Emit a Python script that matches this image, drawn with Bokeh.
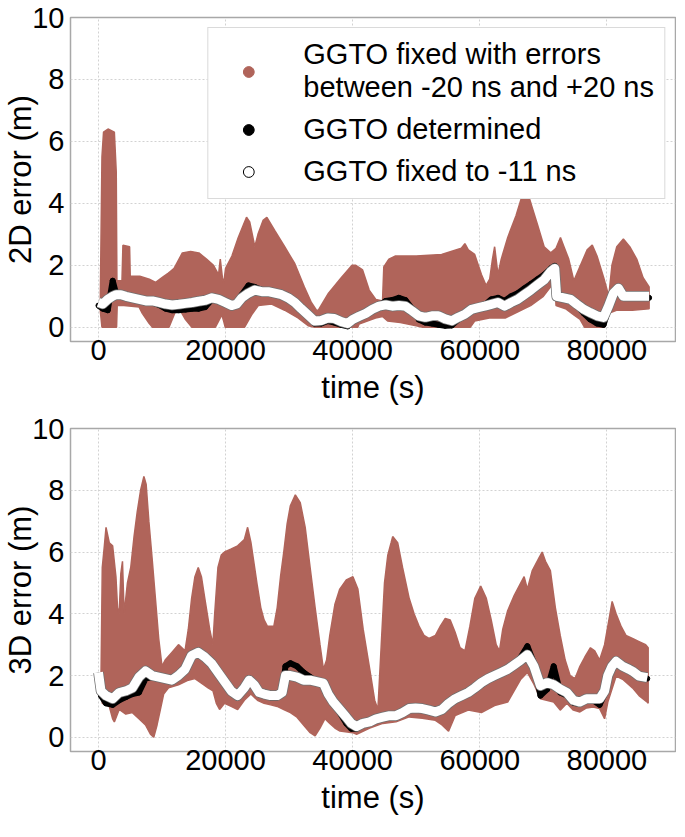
from bokeh.plotting import figure
from bokeh.models import Range1d, SingleIntervalTicker, ColumnDataSource, Legend, LegendItem
from bokeh.layouts import column
from bokeh.embed import file_html
from bokeh.resources import INLINE

BROWN = "#b0645a"
FONT = "Liberation Sans"

# ---------------- 2D error panel ----------------
t2_up = [300, 550, 800, 1500, 2500, 2800, 2900, 3700, 3850, 4900, 5000, 6500, 8000, 9000, 10000,
         11000, 11300, 11900, 13200, 14500, 15800, 17000, 18100, 18900, 19170, 19500, 19700, 20000,
         21000, 22000, 22800, 23300, 23800, 24600, 25100, 25900, 26500, 27800, 29300, 30900, 32400,
         33500, 34300, 34600, 36200, 38200, 39900, 40500, 41560, 42600, 43640, 44700, 44900, 45700,
         46750, 50000, 54000, 57100, 57660, 58200, 59200, 60260, 61000, 61560, 62000, 62340, 62860,
         63380, 64400, 65700, 66750, 67430, 68050, 69100, 70130, 71170, 72000, 72700, 73250, 74000,
         74800, 75850, 76900, 77700, 78450, 79500, 80300, 80800, 81560, 82600, 83600, 84700, 85700,
         86650]
v2_up = [1.1, 5.5, 6.3, 6.4, 6.3, 5.0, 1.5, 1.5, 2.65, 2.6, 1.65, 1.65, 1.55, 1.45, 1.6,
         1.75, 1.8, 1.9, 2.4, 2.45, 2.4, 2.2, 2.0, 1.7, 2.2, 1.6, 1.4, 1.9,
         2.3, 2.9, 3.3, 3.55, 3.4, 2.6, 3.0, 3.45, 3.55, 3.1, 2.6, 2.05, 1.3,
         0.8, 0.55, 0.55, 1.1, 1.6, 2.0, 2.0, 1.85, 1.2, 0.9, 0.85, 1.95, 2.2,
         2.3, 2.3, 2.35, 2.55, 2.7, 2.5, 2.35, 1.7, 1.35, 1.55, 2.2, 2.6, 1.7,
         2.2, 2.9, 3.6, 4.3, 4.4, 4.0, 3.3, 2.6, 2.4, 2.55, 2.9, 2.6, 2.2,
         1.5, 2.0, 2.5, 2.65, 2.3, 1.6, 1.0, 2.0, 2.6, 2.85, 2.6, 2.2, 1.6,
         1.3]
t2_lo = [300, 550, 2850, 2950, 4000, 6400, 6900, 7970, 8500, 11100, 11600, 12200, 13000, 13700,
         14700, 18400, 18900, 19400, 19700, 19950, 23000, 24100, 25150, 27240, 29300, 31400, 33000,
         34000, 40800, 41000, 43600, 44700, 45500, 47500, 50000, 51000, 58500, 59200, 61500, 64000,
         66000, 68000, 70000, 71500, 71800, 72000, 73500, 74800, 75800, 76500, 79600, 80300, 81500,
         84000, 86650]
v2_lo = [0.5, 0.0, 0.0, 0.7, 0.7, 0.65, 0.45, 0.13, 0.0, 0.0, 0.25, 0.55, 0.5, 0.25,
         0.0, 0.0, 0.2, 0.4, 0.2, 0.0, 0.0, 0.4, 0.7, 0.75, 0.55, 0.3, 0.05,
         0.0, 0.0, 0.1, 0.3, 0.35, 0.2, 0.15, 0.05, 0.0, 0.0, 0.2, 0.3, 0.3,
         0.5, 0.7, 1.0, 1.4, 1.5, 0.7, 0.6, 0.4, 0.25, 0.0, 0.0, 0.45, 0.55,
         0.55, 0.6]
t2_fix = [0, 680, 1460, 2240, 2760, 3540, 4320, 5360, 6400, 7450, 8490, 9530, 10570, 11600, 12650,
          13700, 14740, 15780, 16800, 17860, 18900, 19950, 21000, 21770, 22550, 23600, 24600, 25700,
          26700, 27760, 28800, 29840, 30900, 31900, 32970, 34000, 35050, 36090, 37130, 38200, 39200,
          40000, 41000, 42080, 43100, 44150, 45200, 46230, 47270, 48300, 49350, 50400, 51430, 52470,
          53500, 54550, 55600, 56620, 57660, 58700, 59740, 60780, 61820, 62860, 63900, 64940, 65980,
          67000, 68050, 69100, 70130, 71170, 71800, 72100, 73250, 74290, 75300, 76370, 77400, 78440,
          79480, 80260, 81040, 81820, 82600, 83640, 84680, 85700, 86650]
v2_fix = [0.8, 0.75, 0.9, 1.0, 1.05, 1.05, 1.0, 0.95, 0.9, 0.85, 0.85, 0.8, 0.75, 0.72, 0.74,
          0.77, 0.8, 0.84, 0.87, 0.95, 0.9, 0.8, 0.7, 0.75, 0.95, 1.1, 1.2, 1.15,
          1.15, 1.1, 1.05, 0.95, 0.8, 0.6, 0.4, 0.2, 0.22, 0.3, 0.28, 0.18, 0.12,
          0.25, 0.35, 0.45, 0.58, 0.68, 0.72, 0.68, 0.7, 0.68, 0.53, 0.37, 0.32, 0.37,
          0.37, 0.27, 0.21, 0.32, 0.42, 0.58, 0.63, 0.68, 0.74, 0.8, 0.68, 0.8, 0.9,
          1.05, 1.2, 1.37, 1.53, 1.8, 1.9, 1.0, 0.95, 0.9, 0.74, 0.58, 0.47, 0.37,
          0.32, 0.68, 1.1, 1.26, 1.0, 1.0, 1.0, 1.0, 1.0]
t2_det = [0, 680, 1460, 2240, 2760, 3540, 4320, 5360, 6400, 7450, 8490, 9530, 10570, 11600, 12650,
          13700, 14740, 15780, 16800, 17860, 18900, 19950, 21000, 21770, 22550, 23600, 24600, 25700,
          26700, 27760, 28800, 29840, 30900, 31900, 32970, 34000, 35050, 36090, 37130, 38200, 39200,
          40000, 41000, 42080, 43100, 44150, 45200, 46230, 47270, 48300, 49350, 50400, 51430, 52470,
          53500, 54550, 55600, 56620, 57660, 58700, 59740, 60780, 61820, 62860, 63900, 64940, 65980,
          67000, 68050, 69100, 70130, 71170, 71800, 72100, 73250, 74290, 75300, 76370, 77400, 78440,
          79480, 80260, 81040, 81820, 82600, 83640, 84680, 85700, 86650]
v2_det = [0.7, 0.6, 0.55, 1.5, 1.1, 1.0, 0.95, 0.9, 0.85, 0.8, 0.8, 0.72, 0.6, 0.55, 0.55,
          0.57, 0.6, 0.6, 0.65, 0.9, 0.85, 0.75, 0.68, 0.8, 1.05, 1.35, 1.3, 1.2,
          1.1, 1.05, 1.0, 0.9, 0.75, 0.55, 0.35, 0.12, 0.12, 0.2, 0.15, 0.08, 0.03,
          0.2, 0.3, 0.45, 0.55, 0.7, 0.85, 0.88, 0.95, 0.88, 0.6, 0.25, 0.15, 0.12,
          0.08, 0.05, 0.06, 0.25, 0.4, 0.55, 0.62, 0.72, 0.9, 0.95, 0.85, 1.0, 1.1,
          1.25, 1.4, 1.55, 1.7, 1.9, 1.98, 0.95, 0.9, 0.85, 0.7, 0.45, 0.25, 0.12,
          0.08, 0.6, 1.05, 1.2, 0.95, 0.95, 0.95, 0.95, 0.95]

# ---------------- 3D error panel ----------------
t3_up = [400, 600, 930, 1190, 1700, 2230, 2750, 3000, 3260, 3520, 3780, 4040, 4560, 5080, 5600,
         6100, 6630, 7150, 7500, 7930, 8440, 8960, 9480, 10000, 10500, 11550, 12590, 13620, 14140,
         14660, 15180, 15700, 16200, 16730, 17500, 18000, 18290, 18800, 19320, 19840, 20900, 21900,
         22950, 23470, 24000, 24500, 25000, 25540, 26060, 26570, 27600, 28130, 28650, 29160, 29680,
         30200, 30980, 31750, 32530, 33300, 34090, 34860, 35400, 35900, 36400, 37200, 37970, 39000,
         40040, 40820, 41650, 42690, 43460, 43970, 44500, 45010, 45530, 46050, 46300, 47080, 47850,
         48890, 49660, 50440, 51220, 52000, 53030, 53800, 54570, 55350, 56120, 56900, 57670, 58450,
         59220, 60150, 61030, 61800, 62580, 63100, 63620, 64390, 65430, 66460, 66980, 67490, 68270,
         69300, 69820, 70340, 71110, 71890, 72660, 73440, 74210, 74990, 75760, 76540, 77420, 78090,
         78860, 79640, 80410, 80830, 81450, 82220, 83000, 84030, 85070, 86100, 86500]
v3_up = [1.9, 5.5, 6.2, 6.8, 6.3, 6.2, 5.2, 4.2, 4.0, 5.3, 5.7, 4.0, 5.0, 5.5, 6.5,
         7.3, 8.0, 8.45, 8.2, 7.0, 5.8, 4.5, 3.2, 2.3, 2.5, 2.75, 3.0, 2.8, 3.5,
         4.5, 5.2, 5.5, 5.2, 4.5, 3.5, 3.0, 4.0, 5.5, 5.9, 6.0, 6.1, 6.2,
         6.4, 6.8, 6.3, 5.6, 4.9, 4.2, 3.8, 3.6, 3.6, 4.2, 5.2, 6.0, 6.9,
         7.5, 7.85, 7.6, 6.8, 5.5, 4.2, 3.0, 2.2, 2.5, 3.3, 4.3, 4.8, 5.1,
         5.2, 4.8, 3.5, 2.2, 1.2, 0.9, 3.0, 5.0, 5.9, 6.3, 6.5, 6.3, 5.5,
         4.5, 4.0, 3.6, 3.3, 3.2, 3.3, 3.6, 3.85, 3.8, 3.4, 2.9, 2.8, 3.6,
         4.5, 4.9, 4.5, 3.8, 3.0, 2.8, 3.5, 4.1, 4.6, 5.0, 5.2, 4.8, 5.4,
         5.8, 6.0, 5.7, 5.4, 4.2, 3.3, 2.5, 2.0, 1.9, 2.3, 2.6, 2.9, 2.8,
         2.5, 3.0, 3.9, 4.4, 4.0, 3.6, 3.3, 3.2, 3.1, 3.0, 2.9]
t3_lo = [400, 600, 1700, 2230, 2500, 3260, 4300, 5340, 6370, 7400, 8180, 8700, 9220, 9740, 10260,
         11030, 12590, 14140, 15180, 16200, 17250, 18030, 18550, 19060, 19840, 20880, 21900, 22950,
         23980, 25020, 26060, 27090, 28130, 29160, 30200, 31240, 32270, 33310, 34090, 34860, 35640,
         36400, 37200, 38000, 40000, 40620, 42690, 44750, 46820, 48890, 50960, 53020, 54060, 55090,
         56120, 58190, 60260, 62330, 64390, 66460, 67490, 68520, 69550, 71630, 72660, 73700, 74730,
         75760, 76800, 77830, 78860, 79640, 80150, 81450, 82480, 84030, 85060, 86360, 86500]
v3_lo = [1.9, 1.1, 1.0, 0.6, 0.5, 0.9, 0.75, 0.8, 0.6, 0.4, 0.1, 0.0, 0.4, 0.9, 1.4,
         1.6, 1.7, 1.85, 1.9, 1.75, 1.6, 1.5, 1.1, 0.9, 1.1, 1.0, 0.9, 1.2,
         1.4, 1.2, 1.1, 1.05, 1.0, 0.9, 0.8, 0.65, 0.4, 0.15, 0.05, 0.3, 0.6,
         0.45, 0.3, 0.2, 0.15, 0.1, 0.3, 0.45, 0.5, 0.66, 0.62, 0.55, 0.4, 0.2,
         0.7, 0.88, 0.8, 1.03, 1.14, 1.88, 2.1, 1.72, 1.25, 1.14, 0.88, 1.1, 0.88,
         0.82, 0.95, 0.98, 0.93, 0.6, 1.14, 1.98, 1.88, 1.6, 1.35, 1.14, 1.1]
t3_fix = [0, 400, 1190, 2230, 3260, 4300, 5340, 6370, 7400, 8440, 9480, 10520, 11550, 12590, 13620,
          14660, 15700, 16730, 17770, 18800, 19840, 20880, 21900, 22950, 23720, 24500, 25280, 26060,
          27090, 28130, 28900, 29420, 30200, 31240, 32270, 33310, 34340, 35400, 36160, 36930, 37970,
          39000, 39780, 40620, 41600, 42690, 43700, 44750, 45800, 46820, 47850, 48890, 49900, 50960,
          52000, 53020, 54060, 55090, 56120, 57150, 58190, 59220, 60260, 61300, 62330, 63360, 64390,
          65430, 66460, 67490, 68520, 69550, 70590, 71630, 72660, 73700, 74730, 75760, 76800, 77830,
          78860, 79640, 80150, 80800, 81450, 82480, 83500, 84030, 85060, 86360]
v3_fix = [2.1, 1.5, 1.35, 1.25, 1.45, 1.5, 1.6, 1.95, 2.15, 2.0, 1.95, 1.9, 1.85, 2.0, 2.2,
          2.65, 2.75, 2.6, 2.4, 2.1, 1.8, 1.5, 1.35, 1.6, 1.85, 1.7, 1.45, 1.4,
          1.35, 1.35, 1.45, 2.0, 2.0, 1.95, 1.85, 1.85, 1.8, 1.75, 1.4, 1.15, 0.9,
          0.65, 0.45, 0.35, 0.45, 0.5, 0.6, 0.65, 0.7, 0.7, 0.8, 0.93, 0.95, 0.93,
          0.88, 0.82, 0.9, 1.1, 1.25, 1.35, 1.45, 1.6, 1.77, 1.9, 2.0, 2.1, 2.2,
          2.35, 2.5, 2.67, 2.3, 1.67, 1.77, 1.7, 1.56, 1.45, 1.2, 1.14, 1.25, 1.25,
          1.25, 1.5, 2.0, 2.3, 2.46, 2.3, 2.2, 2.14, 1.98, 1.93]
t3_det = [0, 400, 1190, 2230, 3260, 4300, 5340, 6370, 7400, 8440, 9480, 10520, 11550, 12590, 13620,
          14660, 15700, 16730, 17770, 18800, 19840, 20880, 21900, 22950, 23720, 24500, 25280, 26060,
          27090, 28130, 28900, 29420, 30200, 31240, 32270, 33310, 34340, 35400, 36160, 36930, 37970,
          39000, 39780, 40620, 41600, 42690, 43700, 44750, 45800, 46820, 47850, 48890, 49900, 50960,
          52000, 53020, 54060, 55090, 56120, 57150, 58190, 59220, 60260, 61300, 62330, 63360, 64390,
          65430, 66460, 67490, 68520, 69550, 70590, 71630, 72660, 73700, 74730, 75760, 76800, 77830,
          78860, 79640, 80150, 80800, 81450, 82480, 83500, 84030, 85060, 86360]
v3_det = [2.0, 1.35, 1.1, 1.05, 1.2, 1.3, 1.4, 1.45, 1.9, 1.95, 1.9, 1.85, 1.8, 1.95, 2.15,
          2.6, 2.8, 2.55, 2.35, 2.05, 1.75, 1.45, 1.3, 1.55, 1.8, 1.65, 1.4, 1.35,
          1.3, 1.3, 1.4, 2.3, 2.4, 2.3, 2.1, 1.95, 1.8, 1.7, 1.35, 1.1, 0.8,
          0.45, 0.28, 0.28, 0.4, 0.45, 0.55, 0.6, 0.65, 0.68, 0.78, 0.9, 0.92, 0.9,
          0.85, 0.8, 0.85, 1.05, 1.2, 1.3, 1.4, 1.55, 1.7, 1.85, 1.95, 2.05, 2.15,
          2.3, 2.6, 2.95, 2.4, 1.35, 1.55, 2.3, 1.45, 1.35, 1.12, 1.08, 1.2, 1.2,
          1.05, 1.4, 1.95, 2.25, 2.4, 2.25, 2.15, 2.1, 1.95, 1.9]

LEGEND_LABELS = ["GGTO fixed with errors\nbetween -20 ns and +20 ns",
                 "GGTO determined",
                 "GGTO fixed to -11 ns"]


def make_panel(ylabel, t_up, v_up, t_lo, v_lo, t_det, v_det, t_fix, v_fix,
               height, border_bottom, with_legend):
    p = figure(width=676, height=height,
               x_range=Range1d(-4400, 90800), y_range=Range1d(-0.46, 10),
               output_backend="svg", toolbar_location=None,
               min_border_left=62, min_border_right=1, min_border_top=17,
               min_border_bottom=border_bottom)
    p.background_fill_color = "white"
    p.border_fill_color = "white"
    p.outline_line_color = "#a8a8a8"
    p.outline_line_width = 1.5

    band_x = list(t_up) + list(t_lo)[::-1]
    band_y = list(v_up) + list(v_lo)[::-1]
    p.patch(band_x, band_y, fill_color=BROWN, line_color=BROWN, line_width=1.5)
    # GGTO determined (black) underneath, GGTO fixed to -11 ns (white band) on top
    p.line(t_det, v_det, line_color="black", line_width=6, line_join="round")
    p.scatter(t_det, v_det, size=5, marker="circle", fill_color="black", line_color="black")
    p.line(t_fix, v_fix, line_color="#707070", line_width=10.5, line_join="round")
    p.line(t_fix, v_fix, line_color="white", line_width=9, line_join="round")

    p.xaxis.ticker = SingleIntervalTicker(interval=20000)
    p.yaxis.ticker = SingleIntervalTicker(interval=2)
    p.xaxis.axis_label = "time (s)"
    p.yaxis.axis_label = ylabel
    for ax in (p.xaxis, p.yaxis):
        ax.major_label_text_font = FONT
        ax.major_label_text_font_size = "29px"
        ax.major_label_text_color = "black"
        ax.axis_label_text_font = FONT
        ax.axis_label_text_font_size = "31px"
        ax.axis_label_text_font_style = "normal"
        ax.axis_label_text_color = "black"
        ax.major_tick_out = 0
        ax.major_tick_in = 0
        ax.minor_tick_out = 0
        ax.minor_tick_in = 0
        ax.axis_line_color = None
    p.xaxis.major_label_standoff = -2
    p.xaxis.axis_label_standoff = 7
    p.yaxis.major_label_standoff = 6
    p.yaxis.axis_label_standoff = -9

    for g in (p.xgrid, p.ygrid):
        g.grid_line_color = "#d2d2d2"
        g.grid_line_dash = "2 2"
        g.grid_line_width = 1

    if with_legend:
        # legend-only glyphs, placed far outside the visible ranges
        src = ColumnDataSource(data=dict(x=[-1e9], y=[-1e9]))
        l1 = p.scatter("x", "y", source=src, size=12, marker="circle",
                       fill_color=BROWN, line_color=BROWN)
        l2 = p.scatter("x", "y", source=src, size=10, marker="circle",
                       fill_color="black", line_color="black")
        l3 = p.scatter("x", "y", source=src, size=10, marker="circle",
                       fill_color="white", line_color="black", line_width=1)
        legend = Legend(items=[LegendItem(label=LEGEND_LABELS[0], renderers=[l1]),
                               LegendItem(label=LEGEND_LABELS[1], renderers=[l2]),
                               LegendItem(label=LEGEND_LABELS[2], renderers=[l3])],
                        location="top_right")
        legend.label_text_font = FONT
        legend.label_text_font_size = "29px"
        legend.label_text_color = "black"
        legend.label_text_line_height = 1.1
        legend.glyph_width = 60
        legend.glyph_height = 27
        legend.label_standoff = 25
        legend.padding = 10
        legend.spacing = 9
        legend.margin = 10
        legend.border_line_color = "#b5b5b5"
        legend.border_line_width = 1.5
        legend.background_fill_color = "white"
        legend.background_fill_alpha = 1.0
        p.add_layout(legend)
    return p


p_top = make_panel("2D error (m)", t2_up, v2_up, t2_lo, v2_lo, t2_det, v2_det, t2_fix, v2_fix,
                   411, 70, True)
p_bot = make_panel("3D error (m)", t3_up, v3_up, t3_lo, v3_lo, t3_det, v3_det, t3_fix, v3_fix,
                   410, 70, False)

layout = column(p_top, p_bot)
open("out.html", "w").write(file_html(layout, INLINE))
